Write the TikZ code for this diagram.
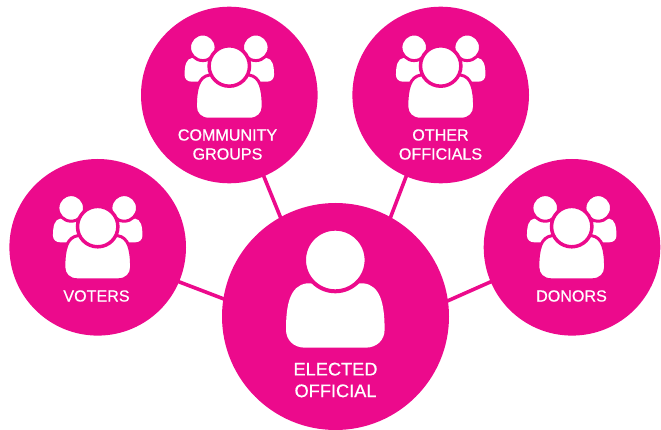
\documentclass[tikz,border=0pt]{standalone}
\usepackage{fontspec}
\setmainfont[FakeBold=0.6]{Liberation Sans}
\definecolor{hub}{HTML}{EC0A8C}
\newcommand{\bodyshape}{(-30,0) .. controls (-42,0) and (-49.3,-8) .. (-49.3,-18)
  .. controls (-49.3,-44) and (-45,-62) .. (-28.7,-64.3) -- (28.7,-64.3)
  .. controls (45,-62) and (49.3,-44) .. (49.3,-18)
  .. controls (49.3,-8) and (42,0) .. (30,0) -- cycle}
\tikzset{
  x=1pt,y=-1pt,
  disc/.style={circle,fill=hub,draw=none,inner sep=0pt,minimum size=176.6pt},
  bigdisc/.style={circle,fill=hub,draw=none,inner sep=0pt,minimum size=227pt},
  link/.style={draw=hub,line width=3.6pt,shorten <=-2pt,shorten >=-2pt},
  lab/.style={text=white,align=center,font=\fontsize{16.1}{19}\selectfont,inner sep=0pt},
  biglab/.style={text=white,align=center,font=\fontsize{18.2}{21.7}\selectfont,inner sep=0pt},
  peoplegroup/.pic={
    \fill[white,shift={(-26.5,-13.3)},scale=.37] \bodyshape;
    \fill[white,shift={(26.5,-13.3)},scale=.37] \bodyshape;
    \filldraw[white,draw=hub,line width=3pt] (-26.5,-47.7) circle[radius=13.3];
    \filldraw[white,draw=hub,line width=3pt] (26.5,-47.7) circle[radius=13.3];
    \filldraw[fill=white,draw=hub,line width=3pt,shift={(0,24.2)},scale=.687] \bodyshape;
    \filldraw[white,draw=hub,line width=3.5pt] (0,-29) circle[radius=20.2];
  }
}
\begin{document}
\begin{tikzpicture}
\useasboundingbox (0,0) rectangle (661,430);
\node[bigdisc] (official) at (335.5,316.5) {};
\node[disc] (voters) at (97.7,247.3) {};
\node[disc] (community) at (229.3,95) {};
\node[disc] (others) at (440.7,95) {};
\node[disc] (donors) at (572,247.3) {};
\draw[link] (voters.-23.6) -- (official.171.3);
\draw[link] (community.-67.4) -- (official.119);
\draw[link] (others.-113) -- (official.61.4);
\draw[link] (donors.203.4) -- (official.8.3);
\pic at (97.7,255.6) {peoplegroup};
\pic at (229.3,95) {peoplegroup};
\pic at (440.7,95) {peoplegroup};
\pic at (571.7,255.6) {peoplegroup};
\fill[white,shift={(335.3,347.7)}] \bodyshape;
\filldraw[white,draw=hub,line width=4pt] (335.3,260) circle[radius=31.3];
\node[lab] (lv) at (96.5,296) {VOTERS};
\node[lab] (lc) at (227.5,144.5) {COMMUNITY\\GROUPS};
\node[lab] (lo) at (440.5,144.5) {OTHER\\OFFICIALS};
\node[lab] (ld) at (571.5,296) {DONORS};
\node[biglab] (le) at (335.5,380) {ELECTED\\OFFICIAL};
\end{tikzpicture}
\end{document}
